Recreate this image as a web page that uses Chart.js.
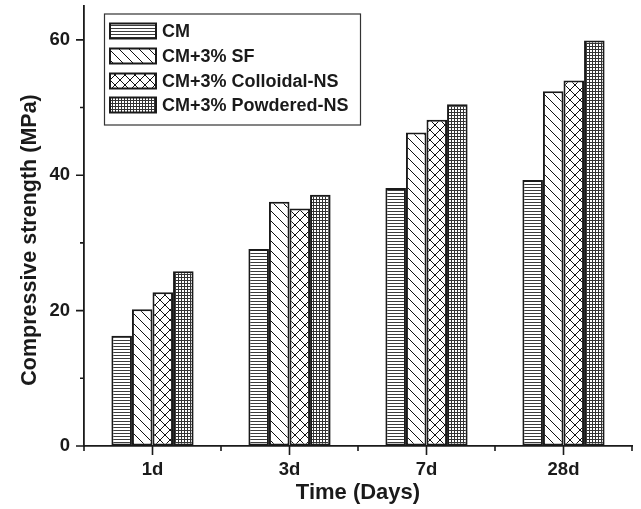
<!DOCTYPE html>
<html><head><meta charset="utf-8">
<script src="https://cdn.jsdelivr.net/npm/chart.js@4.4.1/dist/chart.umd.min.js"></script>
<style>html,body{margin:0;padding:0;background:#fff}#wrap{width:641px;height:509px}</style>
</head><body><div id="wrap"><canvas id="c" width="641" height="509"></canvas></div>
<script>
// ---- data ----
const categories = ['1d', '3d', '7d', '28d'];
const seriesNames = ['CM', 'CM+3% SF', 'CM+3% Colloidal-NS', 'CM+3% Powdered-NS'];
const cmValues = [16.3, 29.1, 38.1, 39.3];
const sfValues = [20.2, 36.1, 46.3, 52.4];
const colloidalValues = [22.7, 35.1, 48.2, 54.0];
const powderedValues = [25.8, 37.1, 50.5, 59.9];
const yTickValues = [0, 20, 40, 60];
const yMinorValues = [10, 30, 50];
const xTitle = 'Time (Days)';
const yTitle = 'Compressive strength (MPa)';

const FONT = "'Liberation Sans', Arial, sans-serif";
const INK = '#1a1a1a';

function makePattern(kind) {
  const c = document.createElement('canvas');
  const s = (kind === 'hlines' || kind === 'grid') ? 3 : 10;
  c.width = s; c.height = s;
  const g = c.getContext('2d');
  g.fillStyle = '#fff'; g.fillRect(0, 0, s, s);
  if (kind === 'hlines') {
    g.fillStyle = '#3c3c3c'; g.fillRect(0, 1, s, 1);
  } else if (kind === 'grid') {
    g.fillStyle = '#333'; g.fillRect(0, 1, s, 1); g.fillRect(1, 0, 1, s);
  } else {
    g.strokeStyle = '#111'; g.lineWidth = 1;
    g.beginPath();
    g.moveTo(-2, -2); g.lineTo(s + 2, s + 2);
    g.moveTo(-2, s - 2); g.lineTo(2, s + 2);
    g.moveTo(s - 2, -2); g.lineTo(s + 2, 2);
    if (kind === 'cross') {
      g.moveTo(-2, s + 2); g.lineTo(s + 2, -2);
      g.moveTo(-2, 2); g.lineTo(2, -2);
      g.moveTo(s - 2, s + 2); g.lineTo(s + 2, s - 2);
    }
    g.stroke();
  }
  return g.createPattern(c, 'repeat');
}
const patterns = [makePattern('hlines'), makePattern('diag'), makePattern('cross'), makePattern('grid')];
const seriesValues = [cmValues, sfValues, colloidalValues, powderedValues];

const decor = {
  id: 'decor',
  afterDraw(chart) {
    const ctx = chart.ctx, xs = chart.scales.x, ys = chart.scales.y, ca = chart.chartArea;
    ctx.save();
    ctx.strokeStyle = INK; ctx.lineWidth = 1.6;
    ctx.beginPath();
    yTickValues.forEach(v => { const p = ys.getPixelForValue(v); ctx.moveTo(ca.left - 8, p); ctx.lineTo(ca.left, p); });
    yMinorValues.forEach(v => { const p = ys.getPixelForValue(v); ctx.moveTo(ca.left - 4, p); ctx.lineTo(ca.left, p); });
    categories.forEach((c, i) => { const p = xs.getPixelForValue(i); ctx.moveTo(p, ca.bottom); ctx.lineTo(p, ca.bottom + 9); });
    for (let i = 0; i <= categories.length; i++) { const p = xs.getPixelForValue(i - 0.5); ctx.moveTo(p, ca.bottom); ctx.lineTo(p, ca.bottom + 5); }
    ctx.stroke();

    // legend
    const bx = 104.5, by = 14, bw = 256, bh = 111;
    ctx.lineWidth = 1.2; ctx.strokeStyle = '#333';
    ctx.strokeRect(bx, by, bw, bh);
    const rows = [31, 56, 81, 105];
    ctx.font = 'bold 18px ' + FONT; ctx.textBaseline = 'middle'; ctx.textAlign = 'left';
    chart.data.datasets.forEach((ds, i) => {
      const yy = rows[i];
      ctx.fillStyle = ds.backgroundColor;
      ctx.fillRect(110, yy - 7.5, 46, 15);
      ctx.lineWidth = 2; ctx.strokeStyle = INK;
      ctx.strokeRect(110, yy - 7.5, 46, 15);
      ctx.fillStyle = INK;
      ctx.fillText(ds.label, 162, yy + 1);
    });

    // y title
    ctx.save();
    ctx.translate(30, 240);
    ctx.rotate(-Math.PI / 2);
    ctx.font = 'bold 21.5px ' + FONT; ctx.textAlign = 'center'; ctx.textBaseline = 'middle';
    ctx.fillStyle = INK;
    ctx.fillText(yTitle, 0, 0);
    ctx.restore();
    ctx.restore();
  }
};

new Chart(document.getElementById('c'), {
  type: 'bar',
  data: {
    labels: categories,
    datasets: seriesNames.map((n, i) => ({
      label: n,
      data: seriesValues[i],
      backgroundColor: patterns[i],
      borderColor: INK,
      borderWidth: 2,
      borderSkipped: false,
      categoryPercentage: 0.6,
      barPercentage: 1.0
    }))
  },
  options: {
    responsive: false,
    animation: false,
    devicePixelRatio: 1,
    layout: { padding: { left: 0, right: 9, top: 6, bottom: 0 } },
    plugins: { legend: { display: false }, tooltip: { enabled: false } },
    scales: {
      x: {
        grid: { display: true, drawOnChartArea: false, drawTicks: false, offset: true, color: 'rgba(0,0,0,0)' },
        border: { display: true, color: INK, width: 1.8 },
        ticks: { color: INK, font: { family: FONT, size: 18.5, weight: 'bold' }, padding: 13, maxRotation: 0 },
        title: { display: true, text: xTitle, color: INK, font: { family: FONT, size: 22, weight: 'bold' }, padding: { top: 0, bottom: 3 } },
        afterFit(s) { s.height = 63; s.paddingLeft = 0; s.paddingRight = 0; }
      },
      y: {
        min: 0, max: 65,
        grid: { display: true, drawOnChartArea: false, drawTicks: false, color: 'rgba(0,0,0,0)' },
        border: { display: true, color: INK, width: 1.8 },
        ticks: { color: INK, font: { family: FONT, size: 18.5, weight: 'bold' }, padding: 14 },
        afterBuildTicks(s) { s.ticks = yTickValues.map(v => ({ value: v })); },
        afterFit(s) { s.width = 84; s.paddingTop = 0; s.paddingBottom = 0; }
      }
    }
  },
  plugins: [decor]
});
</script>
</body></html>
